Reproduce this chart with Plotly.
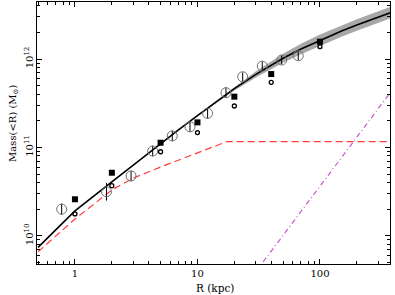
import plotly.graph_objects as go
import numpy as np

# Best-fit total mass profile (black line) and its uncertainty band (dex half-width)
R_fit = [0.5, 1, 2, 3, 5, 7, 10, 15, 20, 30, 50, 70, 100, 150, 200, 300, 400]
M_fit = [7.41e9, 1.91e10, 4.07e10, 6.31e10, 1.12e11, 1.58e11, 2.29e11, 3.47e11,
         4.62e11, 6.71e11, 1.02e12, 1.30e12, 1.63e12, 2.07e12, 2.42e12, 2.99e12, 3.45e12]
band_dex = [0.005, 0.005, 0.005, 0.005, 0.006, 0.007, 0.008, 0.013, 0.02, 0.035,
            0.05, 0.06, 0.065, 0.065, 0.065, 0.065, 0.065]

# Baryonic component (red dashed)
R_bar = [0.5, 1, 2, 3, 5, 7.2, 10, 14, 17.3, 400]
M_bar = [6.6e9, 1.55e10, 3.3e10, 4.5e10, 6.0e10, 7.3e10, 8.7e10, 1.03e11, 1.16e11, 1.16e11]

# Outer component (magenta dash-dot)
R_out = [30, 400]
M_out = [3.94e9, 4.7e11]

# Open circles with error bars
R_circ = [0.779, 1.81, 2.87, 4.31, 6.23, 8.69, 12.1, 17.1, 23.4, 33.8, 48.7, 66.5]
M_circ = [2.0e10, 3.15e10, 4.75e10, 9.1e10, 1.35e11, 1.71e11, 2.43e11, 4.16e11, 6.3e11, 8.3e11, 9.75e11, 1.09e12]
err_dex = [0.065, 0.10, 0.06, 0.06, 0.06, 0.06, 0.06, 0.06, 0.05, 0.05, 0.05, 0.05]

# Filled squares
R_sq = [1, 2, 5, 10, 20, 40, 100]
M_sq = [2.59e10, 5.17e10, 1.13e11, 1.92e11, 3.75e11, 6.76e11, 1.57e12]

# Small open circles
R_sm = [1, 2, 5, 10, 20, 40, 100]
M_sm = [1.77e10, 3.69e10, 8.93e10, 1.47e11, 2.94e11, 5.45e11, 1.38e12]

FONT = "DejaVu Serif"

M_fit_a = np.array(M_fit)
bd = 10 ** np.array(band_dex)
upper = (M_fit_a * bd).tolist()
lower = (M_fit_a / bd).tolist()

ec = np.array(M_circ)
ed = np.array(err_dex)
err_plus = (ec * (10 ** ed - 1)).tolist()
err_minus = (ec * (1 - 10 ** (-ed))).tolist()

fig = go.Figure()

fig.add_trace(go.Scatter(
    x=R_fit + R_fit[::-1], y=upper + lower[::-1],
    mode="lines", fill="toself", fillcolor="#a8a8a8",
    line=dict(width=0, color="#a8a8a8"), hoverinfo="skip"))

fig.add_trace(go.Scatter(
    x=R_bar, y=M_bar, mode="lines",
    line=dict(color="#ff3b3b", width=1.2, dash="7px,4px")))

fig.add_trace(go.Scatter(
    x=R_out, y=M_out, mode="lines",
    line=dict(color="#cc55cc", width=1.2, dash="5px,3px,1px,3px")))

fig.add_trace(go.Scatter(
    x=R_fit, y=M_fit, mode="lines",
    line=dict(color="black", width=1.6)))

fig.add_trace(go.Scatter(
    x=R_circ, y=M_circ, mode="markers",
    marker=dict(symbol="circle-open", size=10, color="#707070", line=dict(width=1)),
    error_y=dict(type="data", symmetric=False, array=err_plus, arrayminus=err_minus,
                 color="black", thickness=1, width=0)))

fig.add_trace(go.Scatter(
    x=R_sq, y=M_sq, mode="markers",
    marker=dict(symbol="square", size=6, color="black")))

fig.add_trace(go.Scatter(
    x=R_sm, y=M_sm, mode="markers",
    marker=dict(symbol="circle-open", size=4, color="black", line=dict(width=1.3))))

x_minor = []
for d in [0.1, 1, 10, 100]:
    for k in range(2, 10):
        x_minor.append(k * d)
y_minor = []
for d in [1e9, 1e10, 1e11, 1e12]:
    for k in range(2, 10):
        y_minor.append(k * d)

fig.update_layout(
    width=395, height=295,
    margin=dict(l=37, r=5, t=2, b=31),
    plot_bgcolor="white", paper_bgcolor="white",
    showlegend=False,
    font=dict(family=FONT, size=10, color="black"),
    xaxis=dict(
        type="log", range=[np.log10(0.49), np.log10(373)], automargin=False,
        tickvals=[1, 10, 100], ticktext=["1", "10", "100"],
        ticks="inside", ticklen=5, tickwidth=1, tickcolor="black",
        showline=True, linecolor="black", linewidth=1, mirror="allticks",
        showgrid=False, zeroline=False,
        minor=dict(tickvals=x_minor, ticks="inside", ticklen=3, tickcolor="black", showgrid=False),
        tickfont=dict(family=FONT, size=10),
    ),
    yaxis=dict(
        type="log", range=[9.681, 12.645], automargin=False,
        tickvals=[1e10, 1e11, 1e12],
        ticktext=["10<sup>10</sup>", "10<sup>11</sup>", "10<sup>12</sup>"],
        tickangle=-90, ticklabelstandoff=-1,
        ticks="inside", ticklen=5, tickwidth=1, tickcolor="black",
        showline=True, linecolor="black", linewidth=1, mirror="allticks",
        showgrid=False, zeroline=False,
        minor=dict(tickvals=y_minor, ticks="inside", ticklen=3, tickcolor="black", showgrid=False),
        tickfont=dict(family=FONT, size=10),
    ),
    annotations=[
        dict(text="R (kpc)", xref="paper", yref="paper", x=0.503, y=-0.092,
             showarrow=False, xanchor="center", yanchor="middle",
             font=dict(family=FONT, size=10.5)),
        dict(text="Mass(&lt;R) (M<sub>⊙</sub>)", xref="paper", yref="paper", x=-0.065, y=0.535,
             showarrow=False, xanchor="center", yanchor="middle", textangle=-90,
             font=dict(family=FONT, size=10)),
    ],
)

fig.write_html("out.html", post_script="document.body.style.margin='0';",
               config={"displayModeBar": False})
